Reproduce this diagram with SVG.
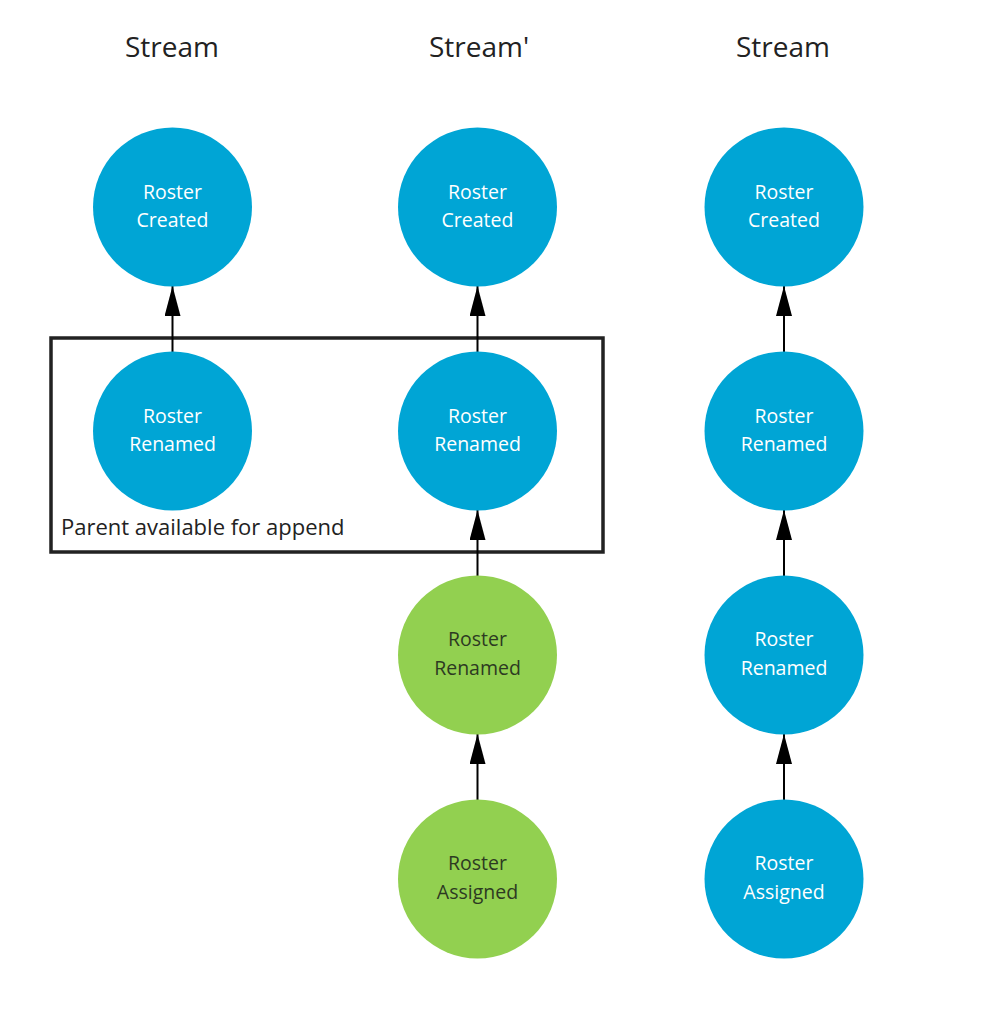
<svg xmlns="http://www.w3.org/2000/svg" width="988" height="1011" viewBox="0 0 988 1011">
<style>
.bg{fill:#ffffff}
.title{font-family:"Open Sans","Noto Sans",sans-serif;font-size:28px;fill:#222222;text-anchor:middle}
.blue circle{fill:#00A5D5}
.green circle{fill:#92D050}
.blue text{font-family:"Open Sans","Noto Sans",sans-serif;font-size:19.5px;fill:#ffffff;text-anchor:middle}
.green text{font-family:"Open Sans","Noto Sans",sans-serif;font-size:19.5px;fill:#2d3a22;text-anchor:middle}
.edge{stroke:#000000;stroke-width:2;fill:none;marker-end:url(#arr)}
.frame{fill:none;stroke:#222222;stroke-width:3.5}
.note{font-family:"Open Sans","Noto Sans",sans-serif;font-size:22px;fill:#222222}
</style>
<defs>
<marker id="arr" viewBox="0 0 30 16" refX="30" refY="8" markerWidth="30" markerHeight="16" markerUnits="userSpaceOnUse" orient="auto">
<path d="M0,0 L30,8 L0,16 Z" fill="#000000"/>
</marker>
</defs>
<rect class="bg" x="0" y="0" width="988" height="1011"/>
<g id="titles">
<text class="title" x="172" y="57">Stream</text>
<text class="title" x="479" y="57">Stream'</text>
<text class="title" x="783" y="57">Stream</text>
</g>
<g id="group-box">
<rect class="frame" x="51" y="338" width="552" height="214"/>
<text class="note" x="61" y="535">Parent available for append</text>
</g>
<g id="connectors">
<line class="edge" x1="172.5" y1="352" x2="172.5" y2="286"/>
<line class="edge" x1="477.5" y1="352" x2="477.5" y2="286"/>
<line class="edge" x1="784" y1="352" x2="784" y2="286"/>
<line class="edge" x1="477.5" y1="576" x2="477.5" y2="510"/>
<line class="edge" x1="784" y1="576" x2="784" y2="510"/>
<line class="edge" x1="477.5" y1="800" x2="477.5" y2="734"/>
<line class="edge" x1="784" y1="800" x2="784" y2="734"/>
</g>
<g id="n1-created" class="blue"><circle cx="172.5" cy="207" r="79.5"/><text x="172.5" y="199">Roster</text><text x="172.5" y="227">Created</text></g>
<g id="n1-renamed" class="blue"><circle cx="172.5" cy="431" r="79.5"/><text x="172.5" y="423">Roster</text><text x="172.5" y="451">Renamed</text></g>
<g id="n2-created" class="blue"><circle cx="477.5" cy="207" r="79.5"/><text x="477.5" y="199">Roster</text><text x="477.5" y="227">Created</text></g>
<g id="n2-renamed" class="blue"><circle cx="477.5" cy="431" r="79.5"/><text x="477.5" y="423">Roster</text><text x="477.5" y="451">Renamed</text></g>
<g id="n2-renamed-new" class="green"><circle cx="477.5" cy="655" r="79.5"/><text x="477.5" y="646">Roster</text><text x="477.5" y="675">Renamed</text></g>
<g id="n2-assigned" class="green"><circle cx="477.5" cy="879" r="79.5"/><text x="477.5" y="870">Roster</text><text x="477.5" y="899">Assigned</text></g>
<g id="n3-created" class="blue"><circle cx="784" cy="207" r="79.5"/><text x="784" y="199">Roster</text><text x="784" y="227">Created</text></g>
<g id="n3-renamed" class="blue"><circle cx="784" cy="431" r="79.5"/><text x="784" y="423">Roster</text><text x="784" y="451">Renamed</text></g>
<g id="n3-renamed2" class="blue"><circle cx="784" cy="655" r="79.5"/><text x="784" y="646">Roster</text><text x="784" y="675">Renamed</text></g>
<g id="n3-assigned" class="blue"><circle cx="784" cy="879" r="79.5"/><text x="784" y="870">Roster</text><text x="784" y="899">Assigned</text></g>
</svg>
